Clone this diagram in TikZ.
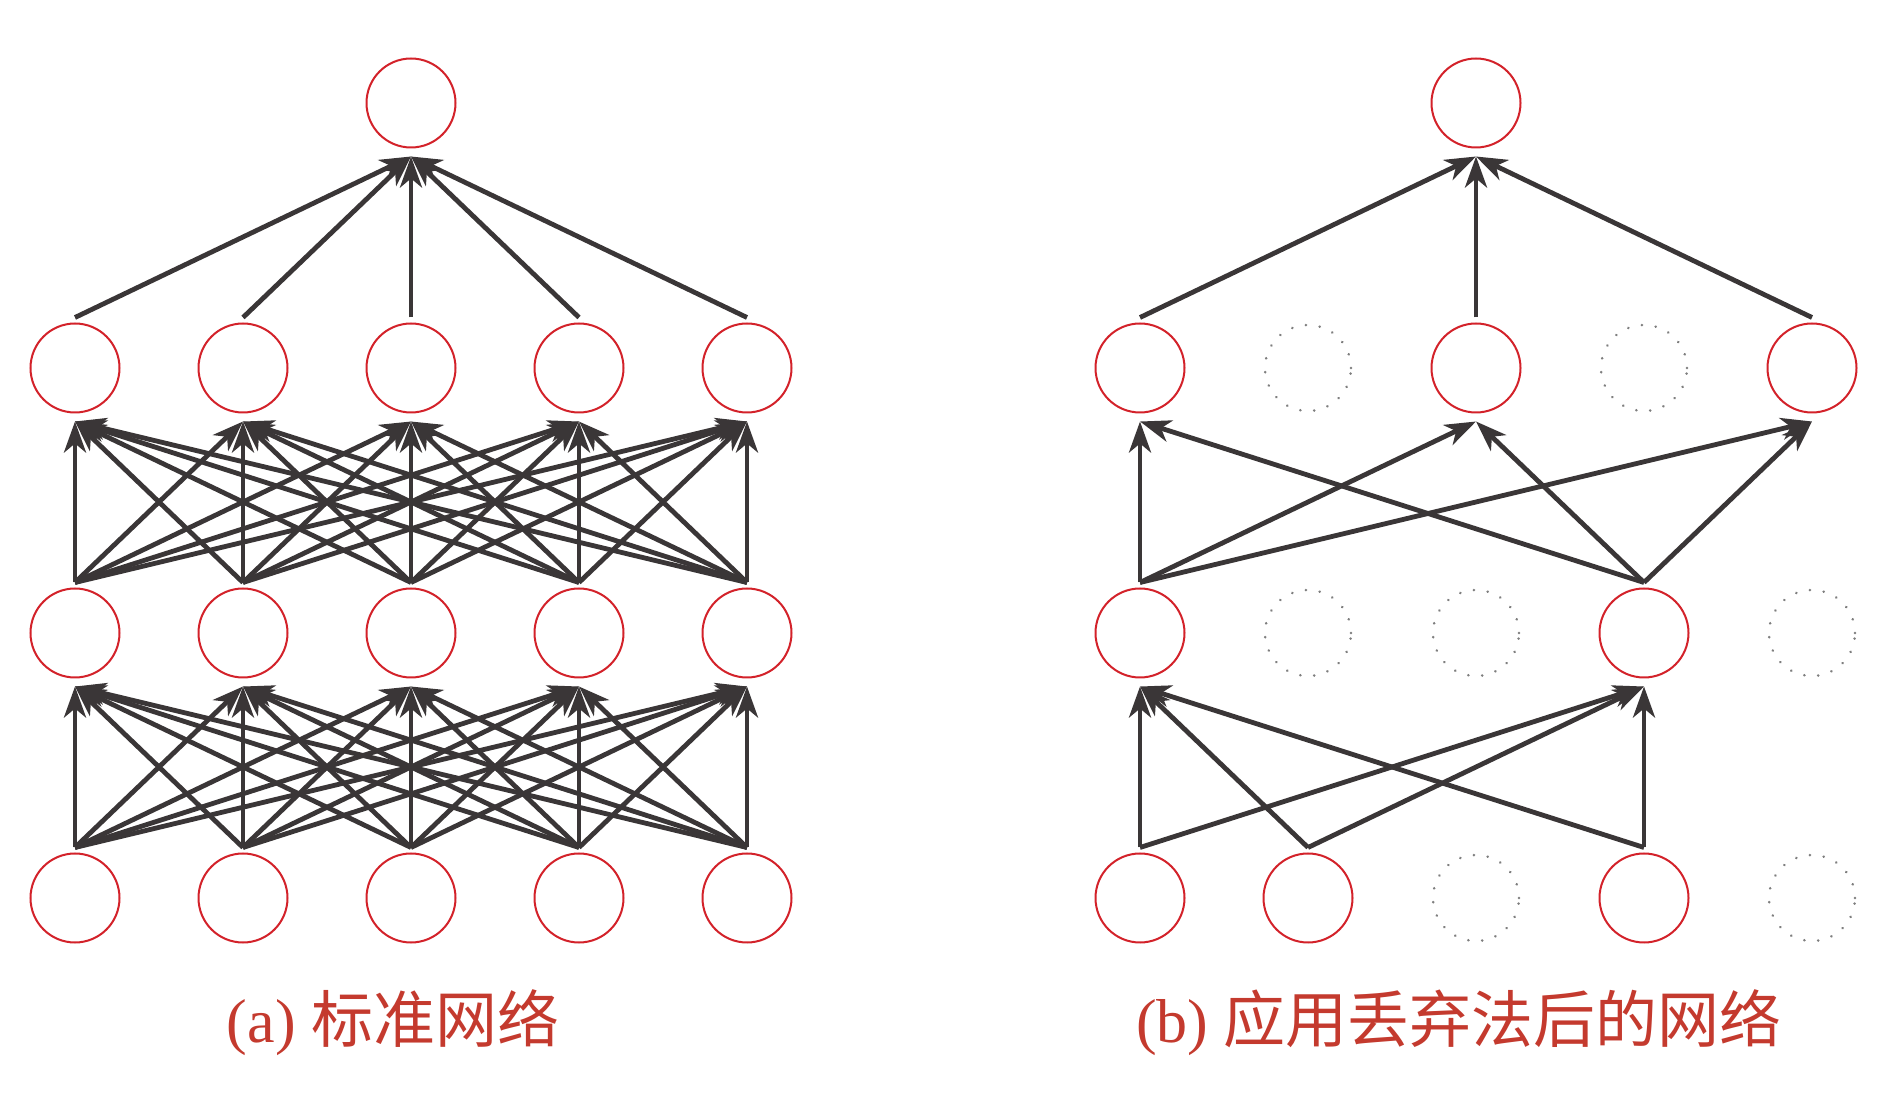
\documentclass[tikz,border=0pt]{standalone}
\usepackage{fontspec}
\setmainfont{Liberation Serif}
\newfontfamily\cjk{Noto Sans CJK SC}
\usetikzlibrary{arrows.meta}
\definecolor{nred}{HTML}{D3222A}
\definecolor{acol}{HTML}{3A3637}
\definecolor{dgray}{HTML}{7E7E7E}
\definecolor{tcol}{HTML}{C43A2E}
\begin{document}
\begin{tikzpicture}[x=0.5pt,y=-0.5pt,
  neuron/.style={circle,draw=nred,line width=1pt,minimum size=44.5pt,inner sep=0pt},
  dropped/.style={circle,draw=dgray,line width=1.4pt,dash pattern=on 0.01pt off 6.95pt,line cap=round,minimum size=43pt,inner sep=0pt},
  conn/.style={draw=acol,line width=2.4pt,-{Stealth[length=15.5pt,width=11pt,inset=4.5pt]}},
  lab/.style={text=tcol,anchor=base,inner sep=0pt,font=\fontsize{31pt}{37pt}\selectfont}]
\useasboundingbox (0,0) rectangle (1886,1095);
% ---------- left panel: standard network ----------
\foreach \k in {0,...,4}{
  \node[neuron] (La\k) at ({75+168*\k},898) {};
  \node[neuron] (Lb\k) at ({75+168*\k},633) {};
  \node[neuron] (Lc\k) at ({75+168*\k},368) {};
}
\node[neuron] (Lo) at (411,103) {};
\foreach \i in {0,...,4}{
  \foreach \j in {0,...,4}{
    \draw[conn] ([yshift=2.5pt]La\i.north) -- ([yshift=-4pt]Lb\j.south);
    \draw[conn] ([yshift=2.5pt]Lb\i.north) -- ([yshift=-4pt]Lc\j.south);
  }
  \draw[conn] ([yshift=2.5pt]Lc\i.north) -- ([yshift=-4pt]Lo.south);
}
% ---------- right panel: after dropout ----------
\foreach \k in {0,1,3}{ \node[neuron] (Ra\k) at ({1140+168*\k},898) {}; }
\foreach \k in {2,4}{ \node[dropped] (Ra\k) at ({1140+168*\k},898) {}; }
\foreach \k in {0,3}{ \node[neuron] (Rb\k) at ({1140+168*\k},633) {}; }
\foreach \k in {1,2,4}{ \node[dropped] (Rb\k) at ({1140+168*\k},633) {}; }
\foreach \k in {0,2,4}{ \node[neuron] (Rc\k) at ({1140+168*\k},368) {}; }
\foreach \k in {1,3}{ \node[dropped] (Rc\k) at ({1140+168*\k},368) {}; }
\node[neuron] (Ro) at (1476,103) {};
\foreach \i in {0,1,3}{
  \foreach \j in {0,3}{
    \draw[conn] ([yshift=2.5pt]Ra\i.north) -- ([yshift=-4pt]Rb\j.south);
  }
}
\foreach \i in {0,3}{
  \foreach \j in {0,2,4}{
    \draw[conn] ([yshift=2.5pt]Rb\i.north) -- ([yshift=-4pt]Rc\j.south);
  }
}
\foreach \i in {0,2,4}{
  \draw[conn] ([yshift=2.5pt]Rc\i.north) -- ([yshift=-4pt]Ro.south);
}
% ---------- captions ----------
\node[lab] (capa) at (393,1043) {(a) {\cjk 标准网络}};
\node[lab] (capb) at (1459,1043) {(b) {\cjk 应用丢弃法后的网络}};
\end{tikzpicture}
\end{document}
